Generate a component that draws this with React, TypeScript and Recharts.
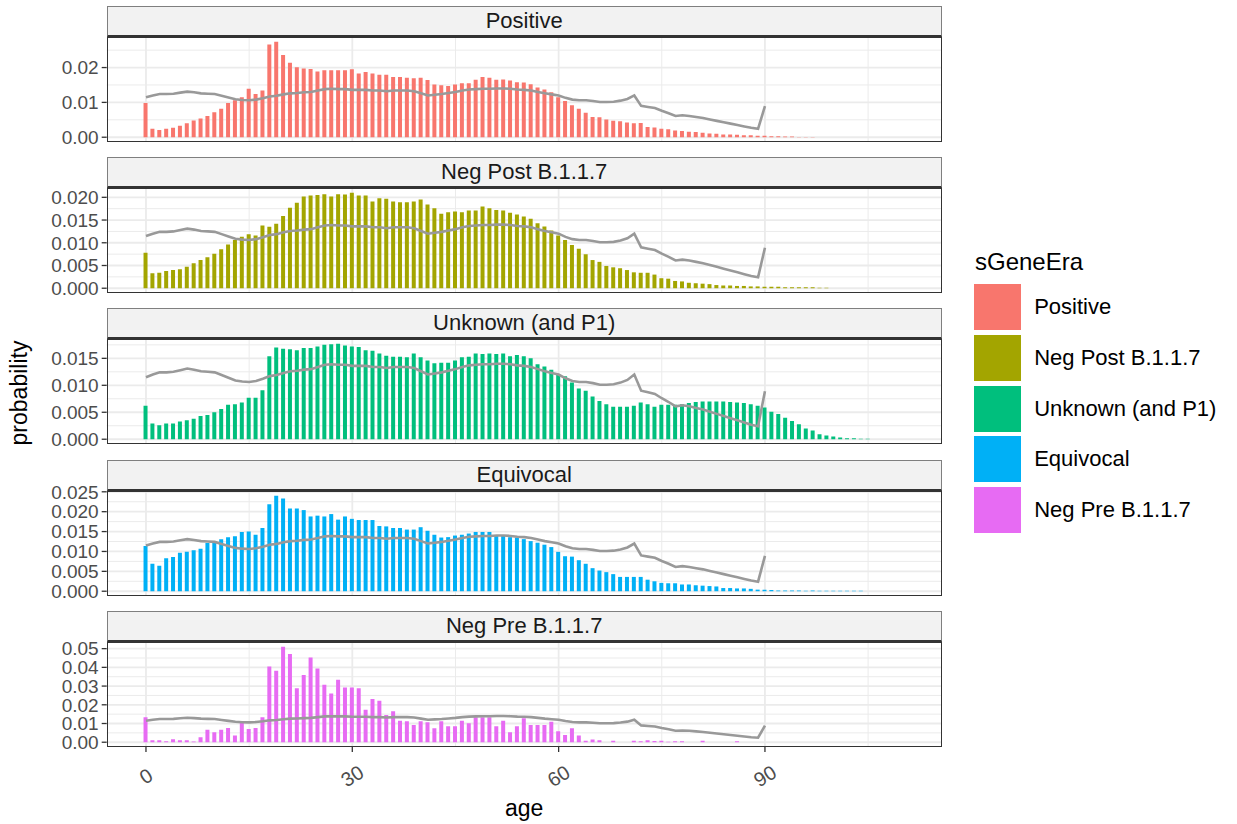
import React from 'react'
import { ComposedChart, Bar, Line, XAxis, YAxis, CartesianGrid } from 'recharts'

const FONT = '"Liberation Sans", Arial, Helvetica, sans-serif'

// ages 0..107 (x categories)
const ages = Array.from({ length: 108 }, (_, i) => i)

// grey reference curve, ages 0..90
const reference = [
  0.0115, 0.012, 0.0124, 0.0124, 0.0125, 0.0128, 0.0131, 0.0129, 0.0126, 0.0125,
  0.0124, 0.0119, 0.0114, 0.0109, 0.0107, 0.0106, 0.0108, 0.0112, 0.0117, 0.0119,
  0.0123, 0.0126, 0.0127, 0.0129, 0.013, 0.0134, 0.0138, 0.0139, 0.0138, 0.0138,
  0.0136, 0.0136, 0.0136, 0.0134, 0.0134, 0.0132, 0.0134, 0.0134, 0.0134, 0.0132,
  0.0126, 0.012, 0.0122, 0.0124, 0.0127, 0.013, 0.0134, 0.0137, 0.0138, 0.0139,
  0.0139, 0.014, 0.014, 0.0139, 0.0137, 0.0136, 0.0134, 0.013, 0.0126, 0.0123,
  0.012, 0.0113, 0.0108, 0.0106, 0.0106, 0.0104, 0.0101, 0.0101, 0.0102, 0.0105,
  0.011, 0.012, 0.009, 0.0087, 0.0084, 0.0076, 0.0069, 0.0061, 0.0063, 0.0061,
  0.0058, 0.0055, 0.0051, 0.0047, 0.0043, 0.0039, 0.0035, 0.0031, 0.0027, 0.0024,
  0.0089,
]

const positive = [
  0.0098, 0.0024, 0.0021, 0.0024, 0.0027, 0.0033, 0.004, 0.0048, 0.0054, 0.0061,
  0.0072, 0.0082, 0.0098, 0.0106, 0.0115, 0.0139, 0.0124, 0.0134, 0.0266, 0.0274,
  0.0236, 0.0214, 0.0201, 0.0197, 0.0196, 0.0189, 0.0192, 0.0192, 0.0192, 0.0192,
  0.0195, 0.0183, 0.0187, 0.0183, 0.0179, 0.0179, 0.0173, 0.0173, 0.0171, 0.0169,
  0.0171, 0.0164, 0.0151, 0.0149, 0.0147, 0.0151, 0.0155, 0.0155, 0.0165, 0.0173,
  0.0171, 0.0165, 0.0166, 0.0163, 0.0158, 0.0157, 0.0152, 0.0143, 0.0137, 0.0129,
  0.0115, 0.0104, 0.0092, 0.0082, 0.007, 0.0058, 0.0057, 0.0051, 0.0047, 0.0046,
  0.0042, 0.004, 0.0041, 0.0029, 0.0028, 0.0024, 0.0023, 0.0019, 0.0018, 0.0016,
  0.0015, 0.0013, 0.0011, 0.001, 0.0008, 0.0008, 0.0007, 0.0006, 0.0006, 0.0004,
  0.0004, 0.0003, 0.0003, 0.0002, 0.0002, 0.0001, 0.0001, 0.0001,
]

const negPost = [
  0.0078, 0.0033, 0.0034, 0.0038, 0.004, 0.0042, 0.0047, 0.0055, 0.0062, 0.0068,
  0.0076, 0.0086, 0.0096, 0.0106, 0.0113, 0.0119, 0.0116, 0.0138, 0.0135, 0.0142,
  0.0159, 0.0177, 0.0188, 0.0202, 0.0204, 0.0205, 0.0207, 0.0202, 0.0207, 0.0206,
  0.021, 0.0204, 0.0204, 0.0191, 0.0198, 0.0197, 0.0191, 0.0189, 0.0189, 0.0191,
  0.0195, 0.0184, 0.0176, 0.0164, 0.0167, 0.0169, 0.0167, 0.0171, 0.0171, 0.018,
  0.0176, 0.0172, 0.0171, 0.0166, 0.0162, 0.0158, 0.0153, 0.0143, 0.0136, 0.0127,
  0.0116, 0.0106, 0.0095, 0.0087, 0.0075, 0.0062, 0.0058, 0.0049, 0.0046, 0.0044,
  0.004, 0.0035, 0.0034, 0.0034, 0.003, 0.0022, 0.0021, 0.0016, 0.0015, 0.0012,
  0.0011, 0.001, 0.0009, 0.0007, 0.0006, 0.0006, 0.0005, 0.0005, 0.0004, 0.0004,
  0.0003, 0.0003, 0.0003, 0.0002, 0.0002, 0.0002, 0.0002, 0.0002, 0.0001, 0.0001,
]

const unknownP1 = [
  0.0062, 0.0029, 0.0026, 0.0029, 0.0029, 0.0033, 0.0035, 0.0038, 0.0043, 0.0045,
  0.005, 0.0056, 0.0064, 0.0065, 0.0068, 0.0077, 0.0077, 0.0091, 0.0154, 0.017,
  0.0168, 0.0167, 0.0165, 0.0169, 0.0169, 0.0172, 0.0175, 0.0176, 0.0177, 0.0174,
  0.0172, 0.0171, 0.0165, 0.0164, 0.0159, 0.0155, 0.0153, 0.0153, 0.0152, 0.0159,
  0.0152, 0.0146, 0.0141, 0.0142, 0.0142, 0.0146, 0.0152, 0.0153, 0.0159, 0.0158,
  0.0159, 0.0158, 0.0159, 0.0154, 0.0156, 0.0154, 0.015, 0.0139, 0.0135, 0.0129,
  0.0121, 0.0117, 0.0105, 0.0094, 0.009, 0.0079, 0.0071, 0.0065, 0.006, 0.006,
  0.006, 0.0062, 0.0068, 0.0065, 0.006, 0.0064, 0.0064, 0.0064, 0.0065, 0.0067,
  0.0069, 0.007, 0.007, 0.007, 0.007, 0.0069, 0.0068, 0.0067, 0.0065, 0.0062,
  0.0059, 0.0051, 0.0047, 0.004, 0.0034, 0.0028, 0.002, 0.0016, 0.0009, 0.0007,
  0.0005, 0.0003, 0.0002, 0.0002, 0.0001, 0.0001,
]

const equivocal = [
  0.0114, 0.0069, 0.0064, 0.0083, 0.0086, 0.0097, 0.0099, 0.0103, 0.0107, 0.0121,
  0.0121, 0.0131, 0.0136, 0.0138, 0.0149, 0.015, 0.0142, 0.0159, 0.0219, 0.024,
  0.0233, 0.0208, 0.0208, 0.0204, 0.0188, 0.019, 0.0188, 0.0194, 0.018, 0.0188,
  0.0182, 0.0179, 0.0179, 0.0179, 0.0164, 0.0163, 0.0159, 0.0159, 0.0155, 0.0155,
  0.0161, 0.0152, 0.0142, 0.0135, 0.0136, 0.014, 0.0142, 0.0145, 0.0149, 0.0149,
  0.0149, 0.014, 0.0139, 0.0136, 0.0135, 0.0131, 0.0126, 0.0122, 0.0117, 0.0111,
  0.0099, 0.0088, 0.0087, 0.0078, 0.0069, 0.0058, 0.0052, 0.0048, 0.0043, 0.0036,
  0.0036, 0.0036, 0.0036, 0.0029, 0.0025, 0.0021, 0.002, 0.002, 0.0017, 0.0017,
  0.0015, 0.0014, 0.0013, 0.0012, 0.0008, 0.0008, 0.0007, 0.0007, 0.0006, 0.0004,
  0.0004, 0.0003, 0.0002, 0.0002, 0.0002, 0.0002, 0.0001, 0.0002, 0.0001, 0.0001,
  0.0001, 0.0001, 0.0001, 0.0001, 0.0001,
]

const negPre = [
  0.0133, 0.0011, 0.0011, 0.0005, 0.0016, 0.0011, 0.0011, 0.0004, 0.0027, 0.0067,
  0.0053, 0.0067, 0.0076, 0.0036, 0.0103, 0.0071, 0.0076, 0.0133, 0.0405, 0.0382,
  0.051, 0.0471, 0.0288, 0.0359, 0.0453, 0.0394, 0.0307, 0.0261, 0.0334, 0.0293,
  0.0293, 0.0288, 0.0174, 0.0231, 0.0222, 0.0146, 0.0165, 0.0115, 0.0112, 0.0092,
  0.0112, 0.0107, 0.0075, 0.0112, 0.0085, 0.0085, 0.0115, 0.0101, 0.0133, 0.0133,
  0.0133, 0.0085, 0.0115, 0.0053, 0.0085, 0.0128, 0.0092, 0.0092, 0.0092, 0.011,
  0.0059, 0.0039, 0.0075, 0.0036, 0.0008, 0.0014, 0.001, 0, 0.0008, 0,
  0, 0.0008, 0.0005, 0.001, 0.0007, 0.0008, 0.0003, 0.0005, 0.0005, 0,
  0, 0.0008, 0, 0, 0, 0, 0.0005,
]

const panels = [
  { name: 'Positive', color: '#F8766D', values: positive, ticks: [0, 0.01, 0.02], minor: [0.005, 0.015, 0.025], dec: 2 },
  { name: 'Neg Post B.1.1.7', color: '#A3A500', values: negPost, ticks: [0, 0.005, 0.01, 0.015, 0.02], minor: [0.0025, 0.0075, 0.0125, 0.0175], dec: 3 },
  { name: 'Unknown (and P1)', color: '#00BF7D', values: unknownP1, ticks: [0, 0.005, 0.01, 0.015], minor: [0.0025, 0.0075, 0.0125, 0.0175], dec: 3 },
  { name: 'Equivocal', color: '#00B0F6', values: equivocal, ticks: [0, 0.005, 0.01, 0.015, 0.02, 0.025], minor: [0.0025, 0.0075, 0.0125, 0.0175, 0.0225], dec: 3 },
  { name: 'Neg Pre B.1.1.7', color: '#E76BF3', values: negPre, ticks: [0, 0.01, 0.02, 0.03, 0.04, 0.05], minor: [0.005, 0.015, 0.025, 0.035, 0.045], dec: 2 },
]

const xTicks = [0, 30, 60, 90]
const xMinor = [15, 45, 75, 105]

const PLOT_LEFT = 106.7
const PLOT_RIGHT = 941.7
const CHART_W = 960
const PLOT_H = 105
const PANEL_TOPS = [36.7, 188, 339.3, 490.6, 641.9]
const STRIP_H = 31
const X_AXIS_H = 62
const PAD = 12 // room so the end tick labels are not clipped

const XTick = (props: any) => {
  const { x, y, payload } = props
  return (
    <g transform={`translate(${x},${y + 22})`}>
      <text transform="rotate(-32)" textAnchor="middle" dominantBaseline="central"
        fill="#4D4D4D" fontSize={20} fontFamily={FONT}>
        {payload.value}
      </text>
    </g>
  )
}

const Panel = ({ idx }: { idx: number }) => {
  const p = panels[idx]
  const bottom = idx === panels.length - 1
  const rows = ages.map((a) => ({
    age: a,
    share: a < p.values.length ? p.values[a] : null,
    overall: a < reference.length ? reference[a] : null,
  }))
  const max = Math.max(...p.values)
  const domain = [-0.05 * max, 1.05 * max]
  const h = PLOT_H + PAD + (bottom ? X_AXIS_H : PAD)
  const top = PANEL_TOPS[idx]
  return (
    <>
      <div style={{
        position: 'absolute', left: PLOT_LEFT, top: top - STRIP_H, width: PLOT_RIGHT - PLOT_LEFT,
        height: STRIP_H, boxSizing: 'border-box', background: '#F2F2F2', border: '1px solid #7F7F7F',
        borderBottom: '2px solid #333333', display: 'flex', alignItems: 'center', justifyContent: 'center',
        fontFamily: FONT, fontSize: 22, color: '#1A1A1A',
      }}>{p.name}</div>
      <div style={{ position: 'absolute', left: 0, top: top - PAD, width: CHART_W, height: h }}>
        <ComposedChart width={CHART_W} height={h} data={rows}
          margin={{ top: PAD, right: CHART_W - PLOT_RIGHT, bottom: bottom ? 0 : PAD, left: PLOT_LEFT - 60 }}>
          <CartesianGrid stroke="#EBEBEB" strokeWidth={1} horizontalValues={p.minor} verticalValues={xMinor} />
          <CartesianGrid stroke="#EBEBEB" strokeWidth={1.8} horizontalValues={p.ticks} verticalValues={xTicks} />
          <XAxis dataKey="age" type="number" domain={[-5.71, 115.7]} allowDataOverflow ticks={xTicks}
            hide={!bottom} height={X_AXIS_H} axisLine={false} tickSize={5}
            tickLine={{ stroke: '#333333', strokeWidth: 1.3 }} tick={<XTick />} interval={0} />
          <YAxis type="number" domain={domain} allowDataOverflow ticks={p.ticks} width={60}
            axisLine={false} tickSize={5} tickMargin={3} interval={0}
            tickLine={{ stroke: '#333333', strokeWidth: 1.3 }}
            tick={{ fill: '#4D4D4D', fontSize: 19, fontFamily: FONT }}
            tickFormatter={(v: number) => v.toFixed(p.dec)} />
          <Bar dataKey="share" fill={p.color} barSize={4} isAnimationActive={false} />
          <Line dataKey="overall" stroke="#999999" strokeWidth={2.6} dot={false} activeDot={false}
            isAnimationActive={false} type="linear" />
        </ComposedChart>
      </div>
      <div style={{
        position: 'absolute', left: PLOT_LEFT, top, width: PLOT_RIGHT - PLOT_LEFT, height: PLOT_H,
        boxSizing: 'border-box', border: '1.5px solid #333333', pointerEvents: 'none',
      }} />
    </>
  )
}

export default function App() {
  return (
    <div style={{ position: 'absolute', left: 0, top: 0, width: 1237, height: 824, background: '#fff', fontFamily: FONT }}>
      {panels.map((_, i) => <Panel key={i} idx={i} />)}
      <div style={{
        position: 'absolute', left: 19, top: 393, transform: 'translate(-50%,-50%) rotate(-90deg)',
        fontSize: 23, color: '#000', whiteSpace: 'nowrap',
      }}>probability</div>
      <div style={{
        position: 'absolute', left: (PLOT_LEFT + PLOT_RIGHT) / 2, top: 808, transform: 'translate(-50%,-50%)',
        fontSize: 23, color: '#000',
      }}>age</div>
      <div style={{ position: 'absolute', left: 975, top: 248, fontSize: 24, color: '#000', lineHeight: '28px' }}>sGeneEra</div>
      {panels.map((p, i) => (
        <div key={p.name} style={{ position: 'absolute', left: 974, top: 284 + i * 50.8, height: 46, display: 'flex', alignItems: 'center' }}>
          <div style={{ width: 46.7, height: 46, background: p.color }} />
          <div style={{ marginLeft: 13.5, fontSize: 22, color: '#000', whiteSpace: 'nowrap' }}>{p.name}</div>
        </div>
      ))}
    </div>
  )
}
